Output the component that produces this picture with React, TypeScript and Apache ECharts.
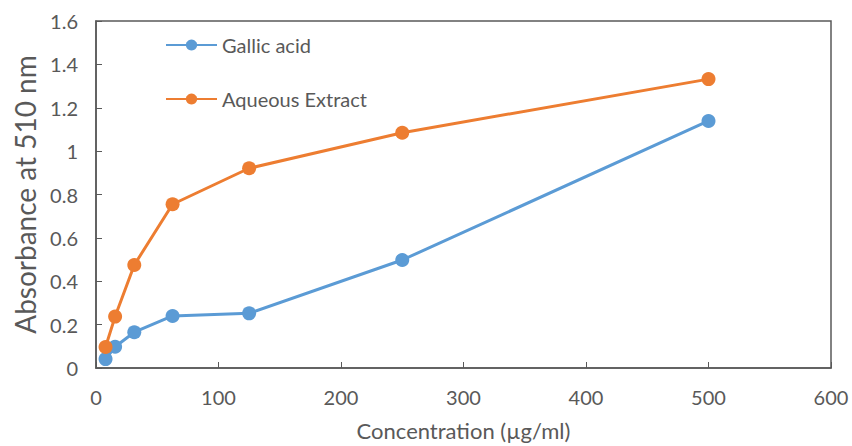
import React, { useEffect, useRef } from "react";
import * as echarts from "echarts";

const concentrations = [7.8, 15.6, 31.25, 62.5, 125, 250, 500];
const gallicAcid = [0.041, 0.098, 0.165, 0.24, 0.252, 0.498, 1.139];
const aqueousExtract = [0.097, 0.237, 0.475, 0.755, 0.921, 1.085, 1.332];
const seriesNames = ["Gallic acid", "Aqueous Extract"];

const FONT = "Lato, 'Open Sans', sans-serif";
const GRAY = "#595959";

export default function App() {
  const ref = useRef<HTMLDivElement>(null);
  useEffect(() => {
    if (!ref.current) return;
    const chart = echarts.init(ref.current, null, { renderer: "svg" });
    const pts = (ys: number[]) => concentrations.map((x, i) => [x, ys[i]]);
    chart.setOption({
      animation: false,
      backgroundColor: "#fff",
      textStyle: { fontFamily: FONT },
      grid: {
        left: 96,
        right: 21,
        top: 21,
        bottom: 78,
        show: true,
        borderColor: GRAY,
        borderWidth: 1.5,
        containLabel: false,
        outerBoundsMode: "none",
      },
      legend: {
        orient: "vertical",
        left: 160,
        top: 30,
        itemWidth: 51,
        itemHeight: 14,
        itemGap: 34,
        textStyle: { fontSize: 20, color: GRAY, fontFamily: FONT },
        data: seriesNames,
      },
      xAxis: {
        type: "value",
        min: 0,
        max: 600,
        interval: 100,
        name: "Concentration (µg/ml)",
        nameLocation: "middle",
        nameGap: 51,
        nameTextStyle: { fontSize: 22, color: GRAY, fontFamily: FONT },
        axisLine: { show: true, lineStyle: { color: GRAY, width: 1.5 } },
        axisTick: { show: true, inside: true, length: 6, lineStyle: { color: GRAY } },
        axisLabel: { fontSize: 20, color: GRAY, margin: 19, fontFamily: FONT },
        splitLine: { show: false },
      },
      yAxis: {
        type: "value",
        min: 0,
        max: 1.6,
        interval: 0.2,
        name: "Absorbance at 510 nm",
        nameLocation: "middle",
        nameGap: 54,
        nameTextStyle: { fontSize: 28, color: GRAY, fontFamily: FONT },
        axisLine: { show: true, lineStyle: { color: GRAY, width: 1.5 } },
        axisTick: { show: true, inside: true, length: 6, lineStyle: { color: GRAY } },
        axisLabel: { fontSize: 20, color: GRAY, margin: 18, fontFamily: FONT },
        splitLine: { show: false },
      },
      series: [
        {
          name: seriesNames[0],
          type: "line",
          data: pts(gallicAcid),
          symbol: "circle",
          symbolSize: 14,
          lineStyle: { color: "#5B9BD5", width: 3 },
          itemStyle: { color: "#5B9BD5" },
        },
        {
          name: seriesNames[1],
          type: "line",
          data: pts(aqueousExtract),
          symbol: "circle",
          symbolSize: 14,
          lineStyle: { color: "#ED7D31", width: 3 },
          itemStyle: { color: "#ED7D31" },
        },
      ],
    });
    return () => chart.dispose();
  }, []);
  return (
    <div
      ref={ref}
      style={{ position: "fixed", left: 0, top: 0, width: 852, height: 446, background: "#fff" }}
    />
  );
}
